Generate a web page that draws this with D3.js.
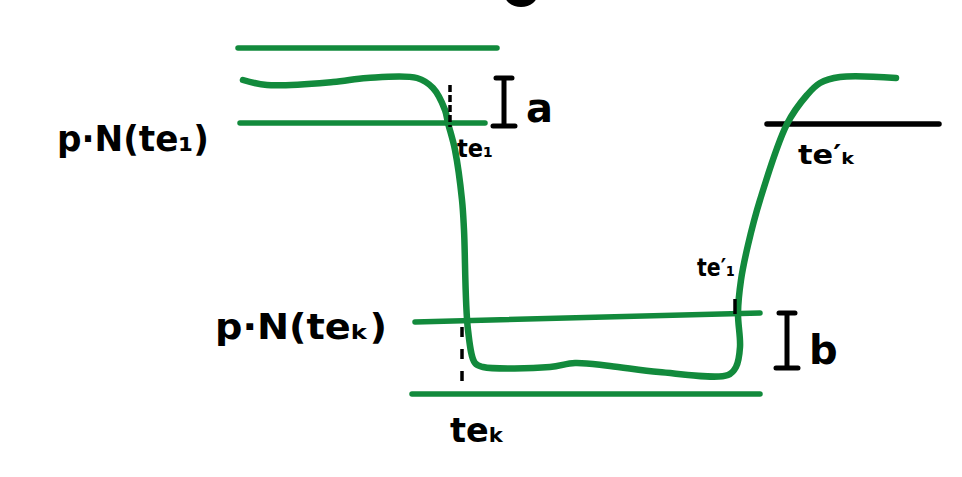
<!DOCTYPE html>
<html>
<head>
<meta charset="utf-8">
<script src="https://cdn.jsdelivr.net/npm/d3@7"></script>
<style>
  html, body { margin: 0; padding: 0; background: #fff; }
  svg { display: block; }
  text { font-family: "DejaVu Sans", "Noto Sans", sans-serif; font-weight: bold; fill: #000; }
</style>
</head>
<body>
<svg id="chart" width="962" height="477"></svg>
<script>
// ---- data (time t, level) ----
const curveT = [24.3, 26.7, 33.3, 36.7, 41.7, 43.3, 44.5, 44.8, 45.5, 46.2, 46.4, 46.8, 47.5, 48.3,
                55.0, 57.5, 61.0, 65.9, 72.8, 73.6, 74.0, 73.8, 74.1, 74.8, 76.0, 78.7, 80.7, 82.0, 84.0, 89.6];
const curveLevel = [39.7, 39.2, 39.5, 39.9, 39.9, 38.9, 36.7, 35.4, 32.7, 27.7, 24.7, 14.7, 11.4, 11.0,
                    11.0, 11.4, 11.1, 10.5, 10.2, 11.0, 13.0, 16.4, 19.7, 23.2, 27.7, 35.3, 38.2, 39.4, 40.0, 39.9];

// reference lines: [t0, level0, t1, level1]
const greenLines = [
  [23.8, 42.9, 49.7, 42.9],   // top line
  [24.0, 35.4, 48.5, 35.4],   // p·N(te1)
  [41.5, 15.5, 76.0, 16.4],   // p·N(tek)
  [41.2, 8.3, 76.0, 8.3]      // bottom line
];
const blackLines = [
  [76.7, 35.3, 93.9, 35.3]
];
// dashed markers: [t, levelTop, levelBottom]
const dashMarks = [
  [45.0, 39.2, 35.0],
  [46.2, 15.0, 8.7]
];
const tickMarks = [
  [73.5, 17.8, 16.3]
];
// brackets: [t, levelTop, levelBottom, label]
const brackets = [
  [50.4, 39.9, 35.1, "a"],
  [78.7, 16.4, 10.9, "b"]
];
// labels: [t, level, text, fontSize, width]
const labels = [
  [5.7, 32.6, "p·N(te₁)", 36, 152],
  [21.5, 13.8, "p·N(teₖ)", 36, 172],
  [45.7, 32.0, "te₁", 25, 36],
  [69.7, 20.1, "te′₁", 25, 38],
  [79.8, 31.3, "te′ₖ", 27, 58],
  [45.0, 3.5, "teₖ", 34, 55]
];

// ---- scales ----
const W = 962, H = 477;
const x = d3.scaleLinear().domain([0, 96.2]).range([0, W]);
const y = d3.scaleLinear().domain([0, 47.7]).range([H, 0]);

const svg = d3.select("#chart");
const GREEN = "#128a3c";

// top partial blob (cut-off handwriting)
svg.append("ellipse")
  .attr("cx", x(52.1)).attr("cy", y(48.4))
  .attr("rx", 17).attr("ry", 14)
  .attr("fill", "#000");

// green reference lines
svg.selectAll("line.g").data(greenLines).enter().append("line")
  .attr("class", "g")
  .attr("x1", d => x(d[0])).attr("y1", d => y(d[1]))
  .attr("x2", d => x(d[2])).attr("y2", d => y(d[3]))
  .attr("stroke", GREEN).attr("stroke-width", 5.5).attr("stroke-linecap", "round");

// black line
svg.selectAll("line.b").data(blackLines).enter().append("line")
  .attr("class", "b")
  .attr("x1", d => x(d[0])).attr("y1", d => y(d[1]))
  .attr("x2", d => x(d[2])).attr("y2", d => y(d[3]))
  .attr("stroke", "#000").attr("stroke-width", 5.5).attr("stroke-linecap", "round");

// main curve
const pts = curveT.map((t, i) => [t, curveLevel[i]]);
const line = d3.line().x(d => x(d[0])).y(d => y(d[1])).curve(d3.curveCatmullRom.alpha(0.5));
svg.append("path").datum(pts)
  .attr("d", line)
  .attr("fill", "none")
  .attr("stroke", GREEN).attr("stroke-width", 6.5)
  .attr("stroke-linecap", "round").attr("stroke-linejoin", "round");

// dashed markers
svg.selectAll("line.d").data(dashMarks).enter().append("line")
  .attr("x1", d => x(d[0])).attr("y1", d => y(d[1]))
  .attr("x2", d => x(d[0])).attr("y2", d => y(d[2]))
  .attr("stroke", "#000").attr("stroke-width", 3.5)
  .attr("stroke-dasharray", (d, i) => i === 0 ? "7,3" : "10,12");

svg.selectAll("line.t").data(tickMarks).enter().append("line")
  .attr("x1", d => x(d[0])).attr("y1", d => y(d[1]))
  .attr("x2", d => x(d[0])).attr("y2", d => y(d[2]))
  .attr("stroke", "#000").attr("stroke-width", 3.5);

// brackets
const br = svg.selectAll("g.br").data(brackets).enter().append("g");
br.append("path")
  .attr("d", d => {
    const cx = x(d[0]), t = y(d[1]), b = y(d[2]);
    return `M${cx - 8},${t}H${cx + 8}M${cx},${t}V${b}M${cx - 11},${b}H${cx + 11}`;
  })
  .attr("fill", "none").attr("stroke", "#000").attr("stroke-width", 5).attr("stroke-linecap", "round");
br.append("text")
  .attr("x", d => x(d[0]) + 22).attr("y", d => y(d[2]) - 4)
  .attr("font-size", 40)
  .text(d => d[3]);

// labels
svg.selectAll("text.lab").data(labels).enter().append("text")
  .attr("class", "lab")
  .attr("x", d => x(d[0])).attr("y", d => y(d[1]))
  .attr("font-size", d => d[3])
  .attr("textLength", d => d[4])
  .attr("lengthAdjust", "spacingAndGlyphs")
  .text(d => d[2]);
</script>
</body>
</html>
